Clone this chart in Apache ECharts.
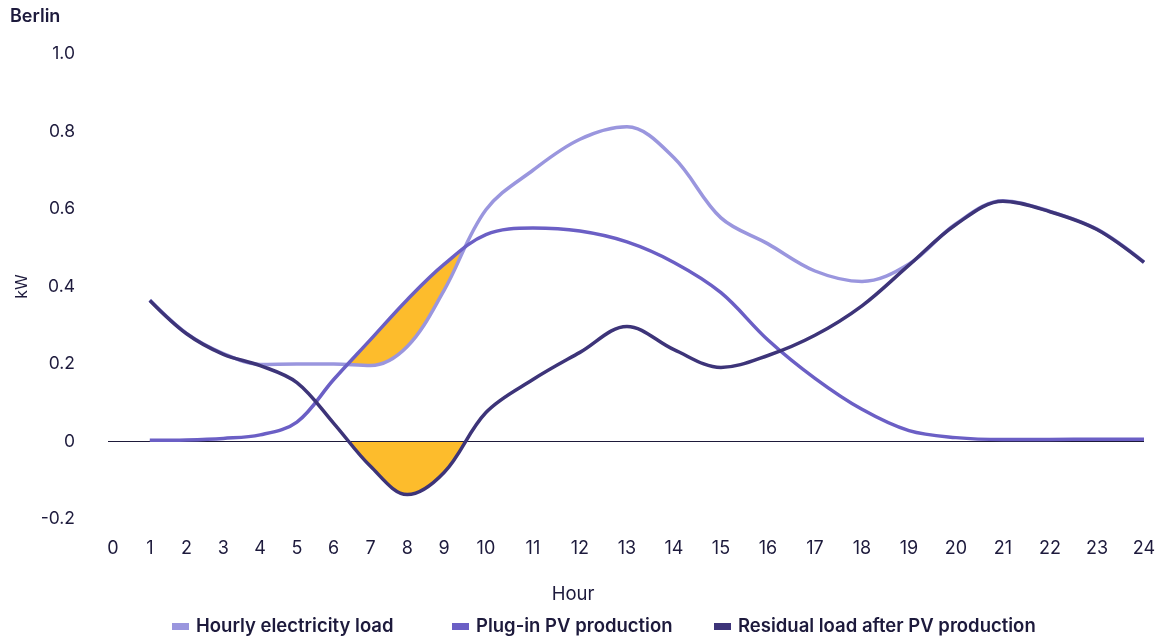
<!DOCTYPE html>
<html>
<head>
<meta charset="utf-8">
<script src="https://cdn.jsdelivr.net/npm/echarts@6/dist/echarts.min.js"></script>
<style>
  html, body { margin: 0; padding: 0; background: #ffffff; }
  #chart { width: 1162px; height: 639px; }
</style>
</head>
<body>
<div id="chart"></div>
<script>
// ---- data ----
const hourLabels = ['0','1','2','3','4','5','6','7','8','9','10','11','12','13','14','15','16','17','18','19','20','21','22','23','24'];
const hours = [1,2,3,4,5,6,7,8,9,10,11,12,13,14,15,16,17,18,19,20,21,22,23,24];
const hourlyLoad = [0.365,0.279,0.227,0.199,0.200,0.200,0.196,0.245,0.390,0.598,0.700,0.780,0.812,0.732,0.577,0.510,0.440,0.413,0.458,0.562,0.621,0.594,0.548,0.463];
const pvProduction = [0.003,0.004,0.008,0.017,0.050,0.160,0.263,0.366,0.457,0.534,0.551,0.543,0.515,0.462,0.384,0.262,0.163,0.083,0.028,0.010,0.005,0.005,0.006,0.006];
const residualLoad = [0.364,0.278,0.225,0.196,0.152,0.047,-0.064,-0.137,-0.080,0.075,0.160,0.230,0.297,0.237,0.191,0.222,0.274,0.350,0.455,0.560,0.620,0.593,0.547,0.462];
const yTicks = [-0.2, 0, 0.2, 0.4, 0.6, 0.8, 1.0];

const seriesNames = ['Hourly electricity load', 'Plug-in PV production', 'Residual load after PV production'];

// ---- styling ----
const TEXT = '#1d1a3c';
const C_LOAD = '#9a96de';
const C_PV = '#6b5fc5';
const C_RES = '#3d3479';
const C_FILL = '#fdbc2c';
const FONT = 'Inter, "Noto Sans", sans-serif';
const SMOOTH = 0.35;

// The hour labels are laid out as text boxes separated by a constant gap,
// so their centres (and the data points) are not evenly spaced.
const GAP = 26.5, CHAR_W = 10.2;
const labelPos = [0];
for (let i = 1; i < hourLabels.length; i++) {
  labelPos.push(labelPos[i - 1] + GAP + (hourLabels[i - 1].length + hourLabels[i].length) / 2 * CHAR_W);
}
const xOf = h => labelPos[hourLabels.indexOf(String(h))];
const toData = vals => hours.map((h, i) => [xOf(h), vals[i]]);

const chart = echarts.init(document.getElementById('chart'), null, { renderer: 'canvas' });

const baseLine = {
  type: 'line', smooth: SMOOTH, symbol: 'none', silent: true,
  emphasis: { disabled: true }
};

const option = {
  animation: false,
  backgroundColor: '#ffffff',
  textStyle: { fontFamily: FONT, color: TEXT },
  title: [
    { text: 'Berlin', left: 5, top: 3, textStyle: { fontFamily: FONT, fontSize: 18, fontWeight: 600, color: TEXT } },
    { text: 'Hour', left: 568, top: 580, textAlign: 'center', textStyle: { fontFamily: FONT, fontSize: 18.5, fontWeight: 400, color: TEXT } }
  ],
  legend: seriesNames.map((name, i) => ({
    data: [name],
    left: [167, 447, 709][i],
    top: 612,
    icon: 'rect',
    itemWidth: 17,
    itemHeight: 7,
    selectedMode: false,
    textStyle: { fontFamily: FONT, fontSize: 18.5, fontWeight: 600, color: TEXT, padding: [0, 0, 0, 2] }
  })),
  grid: { left: 108, right: 18, top: 54, bottom: 120, containLabel: false },
  xAxis: {
    type: 'value',
    min: -5,
    max: labelPos[labelPos.length - 1],
    axisLine: { show: false },
    axisTick: { show: false },
    splitLine: { show: false },
    axisLabel: {
      customValues: labelPos,
      margin: 21,
      fontFamily: FONT, fontSize: 18, color: TEXT,
      formatter: v => {
        let best = 0;
        labelPos.forEach((p, i) => { if (Math.abs(p - v) < Math.abs(labelPos[best] - v)) best = i; });
        return hourLabels[best];
      }
    }
  },
  yAxis: {
    type: 'value',
    min: yTicks[0], max: yTicks[yTicks.length - 1], interval: 0.2,
    name: 'kW', nameLocation: 'middle', nameRotate: 90, nameGap: 77,
    nameTextStyle: { fontFamily: FONT, fontSize: 16, color: TEXT },
    axisLine: { show: false },
    axisTick: { show: false },
    splitLine: { show: false },
    axisLabel: {
      margin: 33, fontFamily: FONT, fontSize: 17.5, color: TEXT,
      formatter: v => (Math.abs(v) < 1e-9 ? '0' : v.toFixed(1))
    }
  },
  series: [
    // orange area under PV (to 0)
    Object.assign({}, baseLine, {
      id: 'pvFill', data: toData(pvProduction), z: 1,
      lineStyle: { width: 0 }, areaStyle: { color: C_FILL, opacity: 1, origin: 'auto' }
    }),
    // white area under load hides the orange wherever load is above PV
    Object.assign({}, baseLine, {
      id: 'loadMask', data: toData(hourlyLoad), z: 2,
      lineStyle: { width: 0 }, areaStyle: { color: '#ffffff', opacity: 1, origin: 'auto' },
      markLine: {
        silent: true, symbol: 'none', z: 4, label: { show: false },
        lineStyle: { color: '#1e1a3a', width: 1, type: 'solid' },
        emphasis: { disabled: true },
        data: [{ yAxis: 0 }]
      }
    }),
    // orange area where residual load is negative (gradient cut at y = 0)
    Object.assign({}, baseLine, {
      id: 'resFill', data: toData(residualLoad), z: 3,
      lineStyle: { width: 0 }, areaStyle: { color: 'rgba(255,255,255,0)', opacity: 1, origin: 'auto' }
    }),
    Object.assign({}, baseLine, {
      name: seriesNames[0], data: toData(hourlyLoad), z: 6,
      itemStyle: { color: C_LOAD }, lineStyle: { color: C_LOAD, width: 3.5 }
    }),
    Object.assign({}, baseLine, {
      name: seriesNames[1], data: toData(pvProduction), z: 7,
      itemStyle: { color: C_PV }, lineStyle: { color: C_PV, width: 3.5 }
    }),
    Object.assign({}, baseLine, {
      name: seriesNames[2], data: toData(residualLoad), z: 8,
      itemStyle: { color: C_RES }, lineStyle: { color: C_RES, width: 3.5 }
    })
  ]
};

chart.setOption(option);

// colour the residual area only below the zero line
const yTop = chart.convertToPixel({ yAxisIndex: 0 }, yTicks[yTicks.length - 1]);
const yBot = chart.convertToPixel({ yAxisIndex: 0 }, yTicks[0]);
const yZero = chart.convertToPixel({ yAxisIndex: 0 }, 0);
const t = (yZero - yTop) / (yBot - yTop);
chart.setOption({
  series: [{
    id: 'resFill',
    areaStyle: {
      color: new echarts.graphic.LinearGradient(0, yTop, 0, yBot, [
        { offset: 0, color: 'rgba(253,188,44,0)' },
        { offset: t, color: 'rgba(253,188,44,0)' },
        { offset: t, color: C_FILL },
        { offset: 1, color: C_FILL }
      ], true)
    }
  }]
});
</script>
</body>
</html>
